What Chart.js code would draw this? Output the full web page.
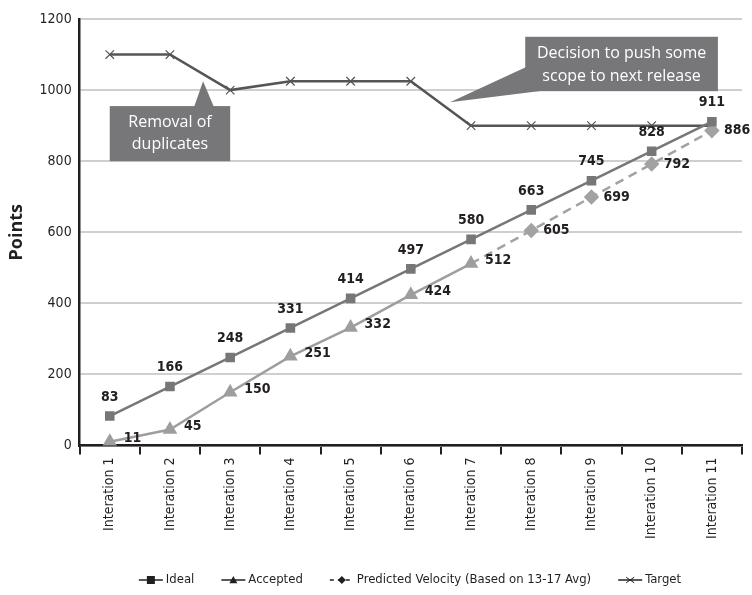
<!DOCTYPE html>
<html>
<head>
<meta charset="utf-8">
<script src="https://cdn.jsdelivr.net/npm/chart.js@4.4.0/dist/chart.umd.min.js"></script>
<style>
  html, body { margin: 0; padding: 0; background: #fff; }
  #wrap { width: 752px; height: 595px; }
</style>
</head>
<body>
<div id="wrap"><canvas id="burnup" width="752" height="595"></canvas></div>
<script>
const iterations = ["Interation 1", "Interation 2", "Interation 3", "Interation 4", "Interation 5", "Interation 6",
    "Interation 7", "Interation 8", "Interation 9", "Interation 10", "Interation 11"];
const ideal = [83, 166, 248, 331, 414, 497, 580, 663, 745, 828, 911];
const accepted = [11, 45, 150, 251, 332, 424, 512, null, null, null, null];
const predicted = [null, null, null, null, null, null, 512, 605, 699, 792, 886];
const target = [1100, 1100, 1000, 1025, 1025, 1025, 900, 900, 900, 900, 900];
const seriesNames = ["Ideal", "Accepted", "Predicted Velocity (Based on 13-17 Avg)", "Target"];

const narrow = "'Liberation Sans Narrow', 'DejaVu Sans Condensed', sans-serif";
const plain = "'Open Sans', 'Noto Sans', sans-serif";
const ink = "#231f20";
const colors = { ideal: "#777777", accepted: "#9e9e9e", predicted: "#a2a2a2", target: "#555555", callout: "#77777a" };

// draws a small marker shape, used by the legend
function marker(ctx, style, x, y, r) {
    ctx.beginPath();
    if (style === "rect") {
        ctx.rect(x - r, y - r, r * 2, r * 2);
        ctx.fill();
    } else if (style === "triangle") {
        ctx.moveTo(x, y - r);
        ctx.lineTo(x + r, y + r * 0.8);
        ctx.lineTo(x - r, y + r * 0.8);
        ctx.closePath();
        ctx.fill();
    } else if (style === "rectRot") {
        ctx.moveTo(x, y - r);
        ctx.lineTo(x + r, y);
        ctx.lineTo(x, y + r);
        ctx.lineTo(x - r, y);
        ctx.closePath();
        ctx.fill();
    } else {
        ctx.moveTo(x - r, y - r * 0.7); ctx.lineTo(x + r, y + r * 0.7);
        ctx.moveTo(x - r, y + r * 0.7); ctx.lineTo(x + r, y - r * 0.7);
        ctx.lineWidth = 1;
        ctx.stroke();
    }
}

// grey speech-bubble notes, anchored to category index / points value
const callouts = {
    id: "callouts",
    afterDatasetsDraw(chart) {
        const { ctx, scales: { x, y } } = chart;
        const px = i => x.getPixelForValue(i);
        const py = v => y.getPixelForValue(v);
        ctx.save();
        ctx.fillStyle = colors.callout;

        // removal of duplicates
        ctx.fillRect(px(0), py(955), px(2) - px(0), py(800) - py(955));
        ctx.beginPath();
        ctx.moveTo(px(1.4), py(955) + 1);
        ctx.lineTo(px(1.55), py(1025));
        ctx.lineTo(px(1.73), py(955) + 1);
        ctx.closePath();
        ctx.fill();

        // scope decision
        ctx.fillRect(px(6.9), py(1150), px(10.1) - px(6.9), py(997) - py(1150));
        ctx.beginPath();
        ctx.moveTo(px(6.9) + 1, py(1065));
        ctx.lineTo(px(5.65), py(966));
        ctx.lineTo(px(7.25), py(997) - 1);
        ctx.closePath();
        ctx.fill();

        ctx.fillStyle = "#ffffff";
        ctx.font = "16px " + plain;
        ctx.textAlign = "center";
        ctx.textBaseline = "middle";
        const cx1 = (px(0) + px(2)) / 2;
        const cy1 = (py(955) + py(800)) / 2;
        ctx.fillText("Removal of", cx1, cy1 - 11);
        ctx.fillText("duplicates", cx1, cy1 + 11);
        const cx2 = (px(6.9) + px(10.1)) / 2;
        const cy2 = (py(1150) + py(997)) / 2;
        ctx.fillText("Decision to push some", cx2, cy2 - 11);
        ctx.fillText("scope to next release", cx2, cy2 + 12);
        ctx.restore();
    }
};

// value labels: above for Ideal, to the right for Accepted / Predicted
const labelPlace = { 0: "top", 1: "right", 2: "right" };
const valueLabels = {
    id: "valueLabels",
    afterDatasetsDraw(chart) {
        const ctx = chart.ctx;
        ctx.save();
        ctx.font = "bold 14px " + narrow;
        ctx.fillStyle = ink;
        chart.data.datasets.forEach((ds, i) => {
            const place = labelPlace[i];
            if (!place) return;
            chart.getDatasetMeta(i).data.forEach((pt, j) => {
                const v = ds.data[j];
                if (v == null) return;
                if (i === 2 && j === 6) return;
                if (place === "top") {
                    ctx.textAlign = "center";
                    ctx.textBaseline = "bottom";
                    ctx.fillText(v, pt.x, pt.y - 12);
                } else {
                    ctx.textAlign = "left";
                    ctx.textBaseline = "middle";
                    const dy = i === 1 ? -3 : 0;
                    ctx.fillText(v, pt.x + (i === 2 ? 12 : 14), pt.y + dy);
                }
            });
        });
        ctx.restore();
    }
};

// line + marker legend along the bottom
const bottomLegend = {
    id: "bottomLegend",
    afterDraw(chart) {
        const ctx = chart.ctx;
        const items = [
            { color: colors.ideal, style: "rect", dash: [] },
            { color: colors.accepted, style: "triangle", dash: [] },
            { color: colors.predicted, style: "rectRot", dash: [4, 4] },
            { color: colors.target, style: "cross", dash: [] }
        ];
        ctx.save();
        ctx.font = "13px " + narrow;
        const sw = 24, gap = 3, spacing = 27;
        let total = 0;
        items.forEach((it, k) => { total += sw + gap + ctx.measureText(seriesNames[k]).width; });
        total += spacing * (items.length - 1);
        let xx = 410 - total / 2;
        const yy = 580;
        items.forEach((it, k) => {
            ctx.strokeStyle = ink;
            ctx.fillStyle = ink;
            ctx.lineWidth = 1.5;
            ctx.setLineDash(it.dash);
            ctx.beginPath();
            ctx.moveTo(xx, yy);
            ctx.lineTo(xx + sw, yy);
            ctx.stroke();
            ctx.setLineDash([]);
            marker(ctx, it.style, xx + sw / 2, yy, 4);
            ctx.fillStyle = ink;
            ctx.textAlign = "left";
            ctx.textBaseline = "middle";
            ctx.fillText(seriesNames[k], xx + sw + gap, yy);
            xx += sw + gap + ctx.measureText(seriesNames[k]).width + spacing;
        });
        ctx.restore();
    }
};

new Chart(document.getElementById("burnup").getContext("2d"), {
    type: "line",
    data: {
        labels: iterations,
        datasets: [{
            label: seriesNames[0],
            data: ideal,
            borderColor: colors.ideal,
            backgroundColor: colors.ideal,
            borderWidth: 2.5,
            pointStyle: "rect",
            pointRadius: 5,
            tension: 0
        }, {
            label: seriesNames[1],
            data: accepted,
            borderColor: colors.accepted,
            backgroundColor: colors.accepted,
            borderWidth: 2.5,
            pointStyle: "triangle",
            pointRadius: 6,
            tension: 0
        }, {
            label: seriesNames[2],
            data: predicted,
            borderColor: colors.predicted,
            backgroundColor: colors.predicted,
            borderWidth: 2.5,
            borderDash: [9, 6],
            pointStyle: "rectRot",
            pointRadius: ctx => ctx.dataIndex === 6 ? 0 : 6,
            tension: 0
        }, {
            label: seriesNames[3],
            data: target,
            borderColor: colors.target,
            backgroundColor: colors.target,
            borderWidth: 2.5,
            pointStyle: "crossRot",
            pointRadius: 6,
            pointBorderWidth: 1.2,
            tension: 0
        }]
    },
    options: {
        responsive: false,
        animation: false,
        layout: { padding: { top: 19, right: 10, bottom: 53, left: 6 } },
        scales: {
            x: {
                offset: true,
                grid: { offset: true, drawOnChartArea: false, tickLength: 9, color: ink, lineWidth: 2 },
                border: { color: ink, width: 2.5 },
                ticks: {
                    autoSkip: false,
                    minRotation: 90,
                    maxRotation: 90,
                    padding: 3,
                    color: ink,
                    font: { family: narrow, size: 14 }
                }
            },
            y: {
                min: 0,
                max: 1200,
                ticks: {
                    stepSize: 200,
                    padding: 8,
                    color: ink,
                    font: { family: narrow, size: 14 },
                    callback: v => String(v)
                },
                grid: { color: "#cfcfcf", lineWidth: 2, drawTicks: false },
                border: { color: ink, width: 2.5 },
                title: { display: true, text: "Points", color: ink, padding: { top: 0, bottom: 4 }, font: { family: plain, size: 18, weight: "bold" } }
            }
        },
        plugins: {
            legend: { display: false },
            tooltip: { enabled: false }
        }
    },
    plugins: [callouts, valueLabels, bottomLegend]
});
</script>
</body>
</html>
